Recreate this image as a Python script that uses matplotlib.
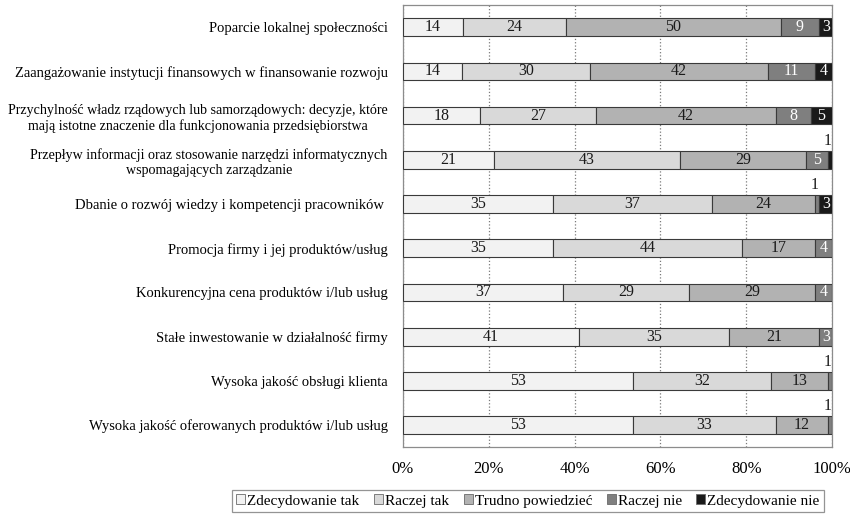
import numpy as np
import matplotlib
matplotlib.use("Agg")
import matplotlib.pyplot as plt

plt.rcParams["font.family"] = ["Liberation Serif", "DejaVu Serif"]

categories = [
    "Poparcie lokalnej społeczności",
    "Zaangażowanie instytucji finansowych w finansowanie rozwoju",
    "Przychylność władz rządowych lub samorządowych: decyzje, które\n"
    "mają istotne znaczenie dla funkcjonowania przedsiębiorstwa",
    "Przepływ informacji oraz stosowanie narzędzi informatycznych\n"
    "wspomagających zarządzanie",
    "Dbanie o rozwój wiedzy i kompetencji pracowników ",
    "Promocja firmy i jej produktów/usług",
    "Konkurencyjna cena produktów i/lub usług",
    "Stałe inwestowanie w działalność firmy",
    "Wysoka jakość obsługi klienta",
    "Wysoka jakość oferowanych produktów i/lub usług",
]

series = ["Zdecydowanie tak", "Raczej tak", "Trudno powiedzieć",
          "Raczej nie", "Zdecydowanie nie"]

zdecydowanie_tak = [14, 14, 18, 21, 35, 35, 37, 41, 53, 53]
raczej_tak = [24, 30, 27, 43, 37, 44, 29, 35, 32, 33]
trudno_powiedziec = [50, 42, 42, 29, 24, 17, 29, 21, 13, 12]
raczej_nie = [9, 11, 8, 5, 1, 4, 4, 3, 1, 1]
zdecydowanie_nie = [3, 4, 5, 1, 3, 0, 0, 0, 0, 0]

colors = ["#f2f2f2", "#d9d9d9", "#b2b2b2", "#7f7f7f", "#1a1a1a"]
text_colors = ["#1a1a1a", "#1a1a1a", "#1a1a1a", "white", "white"]

values = np.array([zdecydowanie_tak, raczej_tak, trudno_powiedziec,
                   raczej_nie, zdecydowanie_nie], dtype=float)
# 100% stacked: each row scaled to its own total
shares = values / values.sum(axis=0) * 100

fig = plt.figure(figsize=(8.5, 5.14), dpi=100)
ax = fig.add_axes([0.474, 0.130, 0.505, 0.860])

y = np.arange(len(categories))
height = 0.4
left = np.zeros(len(categories))
for i, name in enumerate(series):
    ax.barh(y, shares[i], left=left, height=height, color=colors[i],
            edgecolor="#3a3a3a", linewidth=0.8, label=name, zorder=3)
    for j in range(len(categories)):
        v = values[i, j]
        if v == 0:
            continue
        cx = left[j] + shares[i, j] / 2
        if v <= 1:
            # tiny segments get their label just above the bar
            ax.text(cx - 0.5, y[j] - height / 2 - 0.04, f"{v:.0f}",
                    ha="center", va="bottom", fontsize=11.5,
                    color="#1a1a1a", zorder=4)
        else:
            ax.text(cx, y[j], f"{v:.0f}", ha="center", va="center",
                    fontsize=11.5, color=text_colors[i], zorder=4)
    left += shares[i]

ax.set_xlim(0, 100)
ax.set_ylim(len(categories) - 0.5, -0.5)
ax.set_yticks(y)
ax.set_yticklabels(categories, fontsize=10.5, multialignment="center")
for lbl in ax.get_yticklabels():
    if "\n" in lbl.get_text():
        lbl.set_fontsize(10.1)
ax.set_xticks(np.arange(0, 101, 20))
ax.set_xticklabels([f"{t}%" for t in range(0, 101, 20)], fontsize=12)
ax.tick_params(axis="both", length=0)
ax.tick_params(axis="x", pad=10)
ax.tick_params(axis="y", pad=11)

ax.grid(axis="x", linestyle=":", color="#7a7a7a", linewidth=0.9, zorder=0)
for s in ax.spines.values():
    s.set_color("#8c8c8c")
    s.set_linewidth(0.9)

leg = fig.legend(loc="upper center", bbox_to_anchor=(0.621, 0.047),
                 ncol=5, fontsize=11, frameon=True, fancybox=False,
                 handlelength=0.6, handleheight=0.6, handletextpad=0.12,
                 columnspacing=0.95, borderpad=0.3, borderaxespad=0)
leg.get_frame().set_edgecolor("#7a7a7a")
leg.get_frame().set_linewidth(0.9)
for h in leg.legend_handles:
    h.set_edgecolor("#6a6a6a")
    h.set_linewidth(0.6)

fig.savefig("out.png", dpi=100)
